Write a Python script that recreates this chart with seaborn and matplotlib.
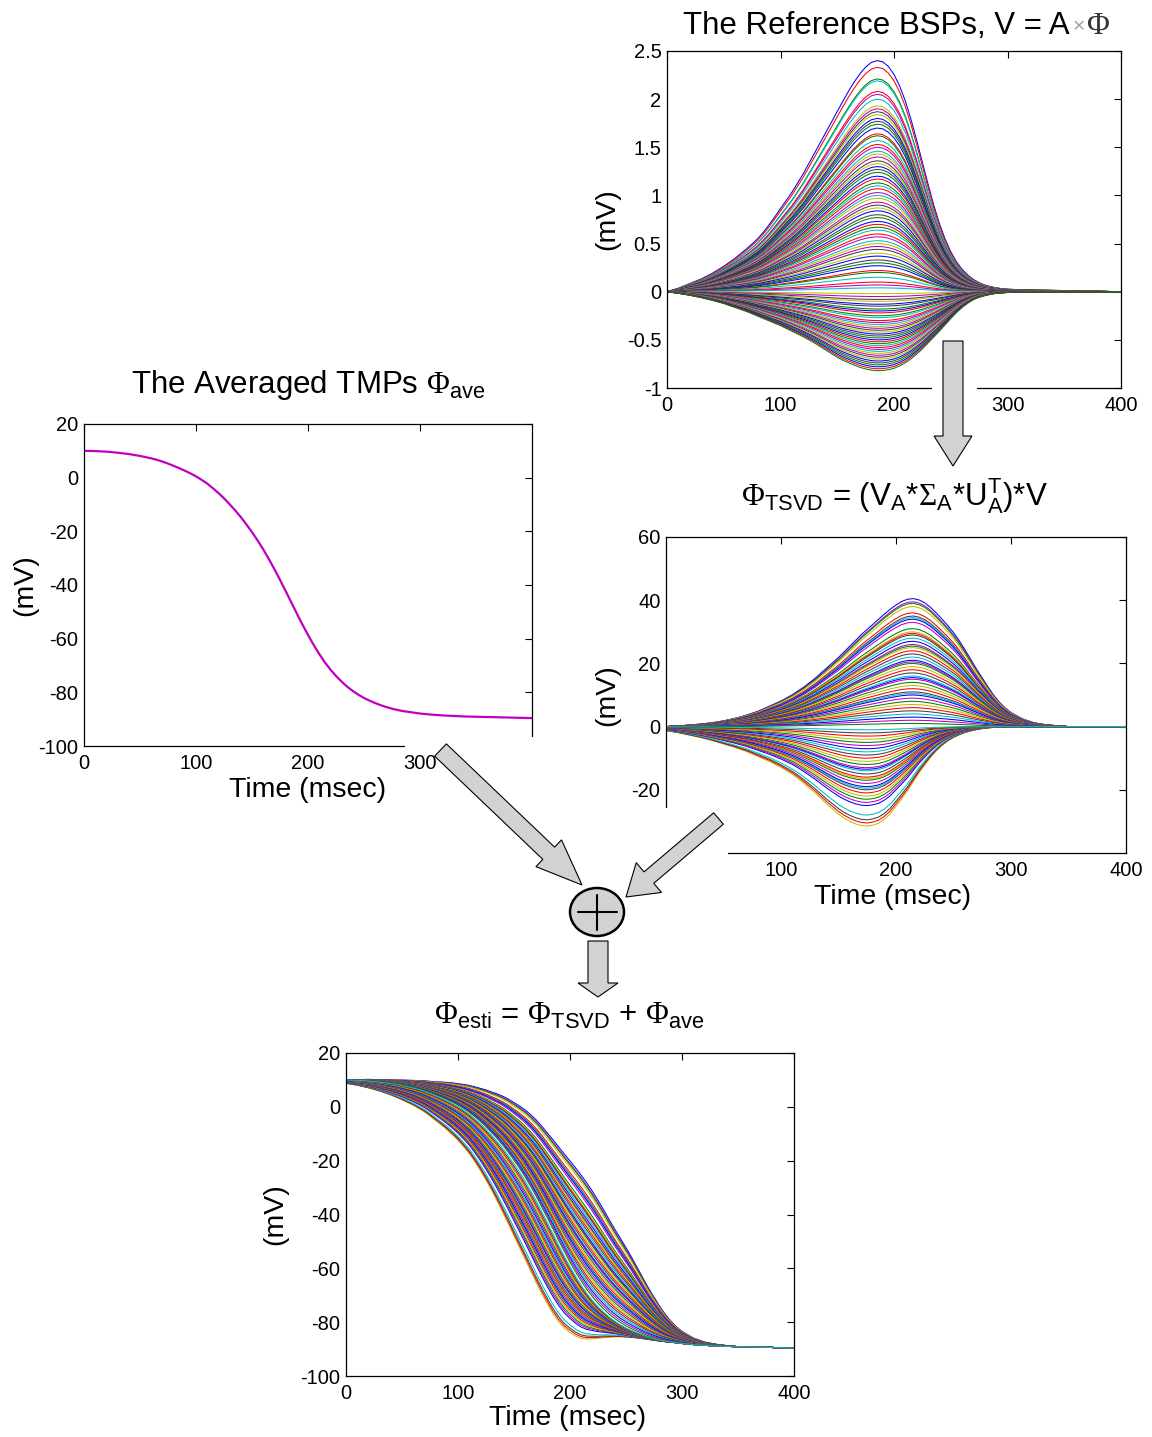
import numpy as np
import pandas as pd
import matplotlib
matplotlib.use('Agg')
import matplotlib.pyplot as plt
import seaborn as sns
from matplotlib.patches import FancyArrow, Ellipse, Rectangle
from matplotlib.transforms import Affine2D
from matplotlib.ticker import FuncFormatter

# ---- data ----
# sample times (ms): 10 ms steps at the ends, 5 ms steps through the upstroke/peak
time_ms = list(range(0, 60, 10)) + list(range(60, 301, 5)) + list(range(310, 401, 10))

# averaged TMP (mV)
ave_tmp = [10.0, 9.9, 9.7, 9.3, 8.8, 8.1,
           7.2, 6.65, 6.0, 5.25, 4.4, 3.55, 2.6, 1.6, 0.5, -0.8,
           -2.2, -3.9, -5.7, -7.7, -9.9, -12.2, -14.7, -17.4, -20.3, -23.4,
           -26.7, -30.3, -34.1, -38.1, -42.2, -46.4, -50.6, -54.7, -58.6, -62.3,
           -65.7, -68.8, -71.5, -73.9, -76.0, -77.9, -79.5, -80.9, -82.1, -83.1,
           -84.0, -84.8, -85.5, -86.1, -86.6, -87.0, -87.3, -87.6, -87.9,
           -88.3, -88.6, -88.8, -89.0, -89.1, -89.2, -89.3, -89.4, -89.5, -89.6]

# BSP waveform shapes (normalised to peak 1)
bsp_pos_shape = [0.0, 0.015, 0.035, 0.055, 0.08, 0.11,
                 0.145, 0.165, 0.185, 0.207, 0.23, 0.258, 0.29, 0.324, 0.36, 0.395,
                 0.43, 0.47, 0.51, 0.555, 0.60, 0.645, 0.69, 0.735, 0.78, 0.825,
                 0.868, 0.908, 0.943, 0.972, 0.992, 1.0, 0.995, 0.975, 0.94, 0.89,
                 0.825, 0.745, 0.655, 0.56, 0.465, 0.375, 0.295, 0.228, 0.173, 0.13,
                 0.097, 0.072, 0.053, 0.039, 0.029, 0.022, 0.017, 0.013, 0.011,
                 0.009, 0.008, 0.007, 0.006, 0.005, 0.004, 0.003, 0.002, 0.001, 0.0]
bsp_neg_shape = [0.0, 0.02, 0.045, 0.075, 0.11, 0.15,
                 0.20, 0.225, 0.25, 0.28, 0.31, 0.34, 0.37, 0.40, 0.43, 0.465,
                 0.50, 0.535, 0.57, 0.61, 0.65, 0.695, 0.74, 0.785, 0.83, 0.868,
                 0.90, 0.93, 0.958, 0.978, 0.993, 1.0, 0.998, 0.988, 0.97, 0.94,
                 0.90, 0.85, 0.79, 0.725, 0.65, 0.575, 0.50, 0.42, 0.34, 0.265,
                 0.20, 0.145, 0.10, 0.07, 0.05, 0.033, 0.02, 0.014, 0.01,
                 0.0, 0.0, 0.0, 0.0, 0.0, 0.0, 0.0, 0.0, 0.0, 0.0]
bsp_pos_peaks = [2.40, 2.33, 2.21, 2.19, 2.08, 2.05, 2.00, 1.93, 1.90, 1.87, 1.84, 1.80,
                 1.77, 1.74, 1.70, 1.64, 1.62, 1.57, 1.53, 1.50, 1.46, 1.43, 1.40, 1.36,
                 1.33, 1.30, 1.27, 1.24, 1.20, 1.17, 1.13, 1.10, 1.07, 1.03, 1.00, 0.97,
                 0.93, 0.90, 0.87, 0.84, 0.80, 0.77, 0.73, 0.70, 0.67, 0.64, 0.60, 0.57,
                 0.53, 0.50, 0.47, 0.44, 0.40, 0.37, 0.33, 0.30, 0.27, 0.22, 0.20, 0.15,
                 0.10, 0.07, 0.04]
bsp_neg_peaks = [-0.02, -0.05, -0.08, -0.10, -0.13, -0.15, -0.18, -0.20, -0.22, -0.25,
                 -0.27, -0.30, -0.32, -0.34, -0.36, -0.38, -0.40, -0.42, -0.44, -0.46,
                 -0.48, -0.50, -0.52, -0.54, -0.56, -0.58, -0.60, -0.62, -0.64, -0.66,
                 -0.68, -0.70, -0.72, -0.74, -0.76, -0.78, -0.80, -0.82]

# TSVD waveform shapes (normalised to peak 1)
tsvd_pos_shape = [0.0, 0.005, 0.012, 0.02, 0.03, 0.045,
                  0.065, 0.077, 0.09, 0.105, 0.12, 0.14, 0.16, 0.18, 0.20, 0.225,
                  0.25, 0.28, 0.31, 0.345, 0.38, 0.42, 0.46, 0.50, 0.54, 0.585,
                  0.63, 0.675, 0.72, 0.76, 0.80, 0.84, 0.88, 0.917, 0.95, 0.978,
                  0.995, 1.0, 0.99, 0.967, 0.932, 0.888, 0.84, 0.79, 0.735, 0.672,
                  0.60, 0.525, 0.45, 0.38, 0.31, 0.245, 0.19, 0.145, 0.11,
                  0.06, 0.03, 0.015, 0.007, 0.0, 0.0, 0.0, 0.0, 0.0, 0.0]
tsvd_neg_shape = [0.04, 0.06, 0.085, 0.11, 0.14, 0.175,
                  0.21, 0.23, 0.25, 0.275, 0.30, 0.325, 0.35, 0.38, 0.41, 0.445,
                  0.48, 0.523, 0.57, 0.62, 0.67, 0.725, 0.78, 0.83, 0.88, 0.92,
                  0.953, 0.978, 0.995, 1.0, 0.99, 0.97, 0.93, 0.875, 0.80, 0.725,
                  0.645, 0.555, 0.465, 0.385, 0.31, 0.245, 0.19, 0.145, 0.11, 0.083,
                  0.06, 0.043, 0.03, 0.02, 0.013, 0.008, 0.005, 0.002, 0.0,
                  0.0, 0.0, 0.0, 0.0, 0.0, 0.0, 0.0, 0.0, 0.0, 0.0]
tsvd_pos_peaks = [40.5, 39.5, 39.0, 38.0, 36.0, 35.0, 34.5, 34.0, 33.0, 31.0, 30.0, 29.5,
                  29.0, 28.0, 27.0, 26.0, 25.5, 25.0, 24.0, 23.0, 22.0, 21.0, 20.5, 20.0,
                  19.0, 18.0, 17.0, 16.0, 15.5, 15.0, 14.0, 13.0, 12.0, 11.0, 10.5, 10.0,
                  9.0, 8.0, 7.0, 6.0, 5.0, 4.0, 3.0, 2.0, 1.0]
tsvd_neg_peaks = [-31.5, -30.5, -29.5, -28.0, -25.0, -24.0, -23.0, -22.0, -21.0, -20.0,
                  -19.5, -19.0, -18.0, -17.0, -16.5, -16.0, -15.0, -14.0, -13.5, -13.0,
                  -12.0, -11.0, -10.0, -9.0, -8.0, -7.0, -6.0, -5.0, -4.0, -3.0, -2.0, -1.0]

matlab_colors = ['#0000ff', '#008000', '#ff0000', '#00bfbf', '#bf00bf', '#bfbf00', '#404040']

sns.set_style('white')
plt.rcParams['font.family'] = ['Liberation Sans', 'DejaVu Sans']
plt.rcParams['text.color'] = 'black'
plt.rcParams['axes.labelcolor'] = 'black'
plt.rcParams['axes.unicode_minus'] = False
plt.rcParams['mathtext.fontset'] = 'custom'
plt.rcParams['mathtext.rm'] = 'Liberation Sans'
plt.rcParams['mathtext.it'] = 'Liberation Sans'
plt.rcParams['mathtext.bf'] = 'Liberation Sans:bold'
plt.rcParams['mathtext.sf'] = 'Liberation Serif'


def family(peaks, shape, start=0):
    vals = np.outer(peaks, shape)
    df = pd.DataFrame(vals, columns=time_ms)
    df['curve'] = ['c%03d' % i for i in range(start, start + len(peaks))]
    return df.melt(id_vars='curve', var_name='time', value_name='mV')


def interleave(df):
    names = list(pd.unique(df['curve']))
    order = names[0::2] + names[1::2]
    return {n: matlab_colors[i % 7] for i, n in enumerate(order)}


bsp = pd.concat([family(bsp_pos_peaks, bsp_pos_shape),
                 family(bsp_neg_peaks, bsp_neg_shape, len(bsp_pos_peaks))])
tsvd = pd.concat([family(tsvd_pos_peaks, tsvd_pos_shape),
                  family(tsvd_neg_peaks, tsvd_neg_shape, len(tsvd_pos_peaks))])
# the estimate is literally the sum shown in the figure
tsvd['esti'] = tsvd['mV'] + tsvd['time'].map(dict(zip(time_ms, ave_tmp)))

W, H = 1152, 1437
fig = plt.figure(figsize=(W / 100, H / 100), dpi=100)
px = Affine2D().scale(1 / W, -1 / H).translate(0, 1) + fig.transFigure


def px_axes(l, t, r, b):
    return fig.add_axes([l / W, 1 - b / H, (r - l) / W, (b - t) / H])


def style(ax, xlim, ylim, xticks, yticks):
    ax.set_xlim(*xlim)
    ax.set_ylim(*ylim)
    ax.set_xticks(xticks)
    ax.set_yticks(yticks)
    fmt = FuncFormatter(lambda v, p: f'{v:g}')
    ax.xaxis.set_major_formatter(fmt)
    ax.yaxis.set_major_formatter(fmt)
    ax.tick_params(direction='in', top=True, right=True, length=5, width=0.8,
                   labelsize=14.5, colors='black')
    ax.tick_params(axis='x', pad=6)
    ax.tick_params(axis='y', pad=4)
    for sp in ax.spines.values():
        sp.set_linewidth(0.9)
        sp.set_color('black')
    ax.set_xlabel('')
    ax.set_ylabel('')


lab = dict(fontsize=20.5)

# Reference BSPs
ax1 = px_axes(667, 51, 1121, 388)
sns.lineplot(data=bsp, x='time', y='mV', hue='curve', palette=interleave(bsp),
             legend=False, estimator=None, linewidth=0.75, ax=ax1)
style(ax1, (0, 400), (-1, 2.5), [0, 100, 200, 300, 400],
      [-1, -0.5, 0, 0.5, 1, 1.5, 2, 2.5])
ax1.set_ylabel('(mV)', va='center', **lab)
ax1.yaxis.set_label_coords(-0.132, 0.5)

# Averaged TMPs
ax2 = px_axes(84, 424, 532, 746)
sns.lineplot(x=time_ms, y=ave_tmp, color='#c000c0', linewidth=1.6, ax=ax2)
style(ax2, (0, 400), (-100, 20), [0, 100, 200, 300], list(range(-100, 21, 20)))
ax2.set_ylabel('(mV)', va='center', **lab)
ax2.yaxis.set_label_coords(-0.132, 0.5)
ax2.set_xlabel('Time (msec)', va='center', **lab)
ax2.xaxis.set_label_coords(0.498, -0.137)

# TSVD
ax3 = px_axes(666, 537, 1126, 853)
sns.lineplot(data=tsvd, x='time', y='mV', hue='curve', palette=interleave(tsvd),
             legend=False, estimator=None, linewidth=0.75, ax=ax3)
style(ax3, (0, 400), (-40, 60), [100, 200, 300, 400], [-20, 0, 20, 40, 60])
ax3.set_ylabel('(mV)', va='center', **lab)
ax3.yaxis.set_label_coords(-0.128, 0.5)
ax3.set_xlabel('Time (msec)', va='center', **lab)
ax3.xaxis.set_label_coords(0.493, -0.139)

# estimated TMPs
ax4 = px_axes(346, 1053, 794, 1376)
sns.lineplot(data=tsvd, x='time', y='esti', hue='curve', palette=interleave(tsvd),
             legend=False, estimator=None, linewidth=0.75, ax=ax4)
style(ax4, (0, 400), (-100, 20), [0, 100, 200, 300, 400], list(range(-100, 21, 20)))
ax4.set_ylabel('(mV)', va='center', **lab)
ax4.yaxis.set_label_coords(-0.158, 0.5)
ax4.set_xlabel('Time (msec)', va='center', **lab)
ax4.xaxis.set_label_coords(0.495, -0.13)

# titles
tkw = dict(ha='center', va='baseline', fontsize=22.5, transform=px)
fig.text(1070, 34, 'The Reference BSPs, V = A', ha='right', va='baseline',
         fontsize=22.5, transform=px)
fig.text(1072, 30, r'$\times$', ha='left', va='baseline', fontsize=15,
         color='#a0a0a0', transform=px)
fig.text(1086, 34, r'$\mathsf{\Phi}$', ha='left', va='baseline', fontsize=22.5,
         color='#333333', transform=px)
fig.text(308, 393, r'The Averaged TMPs $\mathsf{\Phi}_{\mathrm{ave}}$', **tkw)
fig.text(894, 505, r'$\mathsf{\Phi}_{\mathrm{TSVD}}$ = (V$_{\mathrm{A}}$*$\mathsf{\Sigma}_{\mathrm{A}}$*U$_{\mathrm{A}}^{\mathrm{T}}$)*V', **tkw)
fig.text(569, 1024, r'$\mathsf{\Phi}_{\mathrm{esti}}$ = $\mathsf{\Phi}_{\mathrm{TSVD}}$ + $\mathsf{\Phi}_{\mathrm{ave}}$', **tkw)

# white boxes behind the arrow objects
for (x0, y0, x1, y1) in [(932, 382, 977, 394), (405, 737, 545, 752), (640, 808, 728, 862)]:
    fig.add_artist(Rectangle((x0, y0), x1 - x0, y1 - y0, transform=px,
                             facecolor='white', edgecolor='none', zorder=2))

# arrows
akw = dict(length_includes_head=True, transform=px, facecolor='#d2d2d2',
           edgecolor='black', linewidth=0.8, zorder=3)
for (x0, y0, x1, y1, w, hw, hl) in [(953, 341, 953, 466, 20, 38, 30),
                                    (440.5, 750, 582, 885, 17, 37, 46),
                                    (718.5, 818.5, 626, 897, 15, 39, 30),
                                    (598, 941, 598, 997, 20, 40, 14)]:
    fig.add_artist(FancyArrow(x0, y0, x1 - x0, y1 - y0, width=w, head_width=hw,
                              head_length=hl, **akw))

# summing junction
fig.add_artist(Ellipse((597, 912), 54, 48, transform=px, facecolor='#d2d2d2',
                       edgecolor='black', linewidth=1.8, zorder=3))
fig.add_artist(plt.Line2D([578, 617], [912, 912], transform=px, color='black',
                          linewidth=1.5, zorder=4))
fig.add_artist(plt.Line2D([597, 597], [895, 930], transform=px, color='black',
                          linewidth=1.5, zorder=4))

fig.savefig('out.png', dpi=100, facecolor='white')
